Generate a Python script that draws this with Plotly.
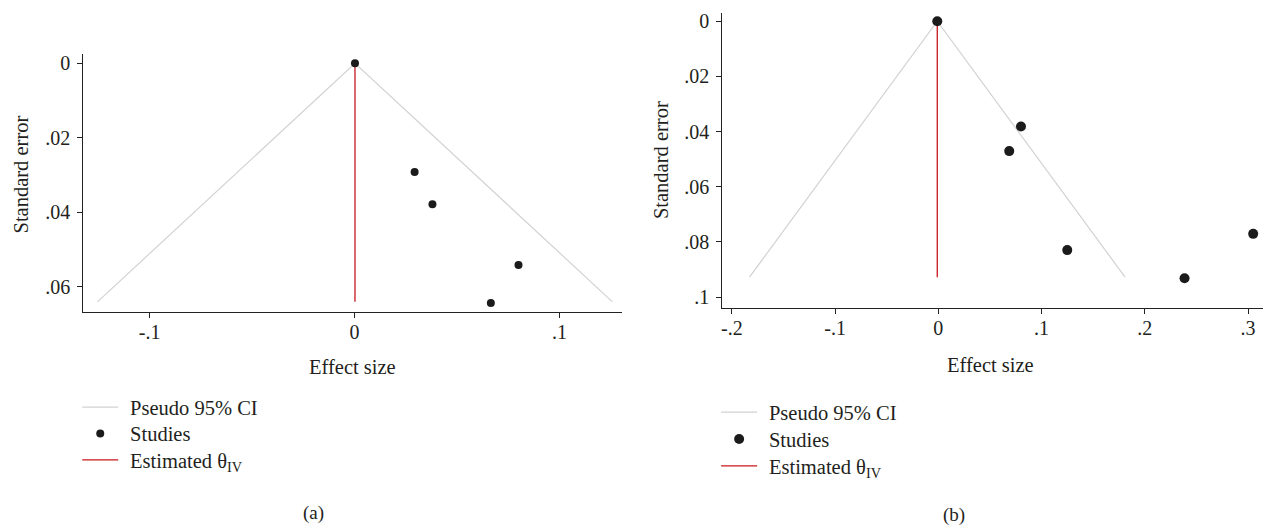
import plotly.graph_objects as go

W, H = 1263, 527

# ---- Panel (a) data ----
a_effect = [0.0002, 0.0293, 0.0380, 0.0800, 0.0665]
a_se = [0.0000, 0.0292, 0.0379, 0.0542, 0.0644]
a_theta = 0.0002
a_se_max = 0.0641

# ---- Panel (b) data ----
b_effect = [-0.0010, 0.0801, 0.0687, 0.1249, 0.2385, 0.3050]
b_se = [0.0000, 0.0382, 0.0471, 0.0830, 0.0932, 0.0771]
b_theta = -0.0010
b_se_max = 0.0928

a_xticks = [-0.1, 0, 0.1]
a_xtext = ["-.1", "0", ".1"]
a_yticks = [0, 0.02, 0.04, 0.06]
a_ytext = ["0", ".02", ".04", ".06"]
b_xticks = [-0.2, -0.1, 0, 0.1, 0.2, 0.3]
b_xtext = ["-.2", "-.1", "0", ".1", ".2", ".3"]
b_yticks = [0, 0.02, 0.04, 0.06, 0.08, 0.1]
b_ytext = ["0", ".02", ".04", ".06", ".08", ".1"]

legend_names = ["Pseudo 95% CI", "Studies", "Estimated θ<sub>IV</sub>"]

FONT = "Liberation Serif"
CI_COLOR = "#d2d2d2"
DOT_COLOR = "#1b1b1b"
RED = "#c8161d"
TXT = "#231f20"
PAD = "\u2004"  # small lead space between legend symbol and text


def px_x(p):
    return p / W


def px_y(p):
    return 1 - p / H


fig = go.Figure()


def add_panel(theta, se_max, eff, se, xa, ya, legends, msize):
    z = 1.96
    fig.add_trace(go.Scatter(
        x=[theta - z * se_max, theta, theta + z * se_max],
        y=[se_max, 0, se_max],
        mode="lines", line=dict(color=CI_COLOR, width=1.2),
        name=PAD + legend_names[0], xaxis=xa, yaxis=ya, legend=legends[0],
        hoverinfo="skip"))
    fig.add_trace(go.Scatter(
        x=[theta, theta], y=[0, se_max], mode="lines",
        line=dict(color=RED, width=1.3),
        name=PAD + legend_names[2], xaxis=xa, yaxis=ya, legend=legends[2],
        hoverinfo="skip"))
    fig.add_trace(go.Scatter(
        x=eff, y=se, mode="markers",
        marker=dict(color=DOT_COLOR, size=msize),
        name=PAD + legend_names[1], xaxis=xa, yaxis=ya, legend=legends[1]))


add_panel(a_theta, a_se_max, a_effect, a_se, "x", "y",
          ["legend", "legend2", "legend3"], 8)
add_panel(b_theta, b_se_max, b_effect, b_se, "x2", "y2",
          ["legend4", "legend5", "legend6"], 10)

axis_common = dict(
    showline=True, linecolor="#222", linewidth=1.3, mirror=False,
    ticks="outside", ticklen=5, tickwidth=1.2, tickcolor="#222",
    showgrid=False, zeroline=False,
    tickfont=dict(family=FONT, size=20, color=TXT),
)


def leg(x_line, y_center):
    return dict(x=px_x(x_line - 7), y=px_y(y_center - 21),
                xanchor="left", yanchor="top",
                font=dict(family=FONT, size=20.5, color=TXT),
                bgcolor="rgba(0,0,0,0)", itemwidth=36,
                itemclick=False, itemdoubleclick=False)


fig.update_layout(
    width=W, height=H,
    margin=dict(l=0, r=0, t=0, b=0),
    paper_bgcolor="white", plot_bgcolor="white",
    font=dict(family=FONT, color=TXT),
    xaxis=dict(domain=[px_x(82.5), px_x(621.7)], range=[-0.1323, 0.1306],
               tickvals=a_xticks, ticktext=a_xtext, anchor="y",
               ticklabelstandoff=-3, **axis_common),
    yaxis=dict(domain=[px_y(311), px_y(51.7)], range=[0.0669, -0.0024],
               tickvals=a_yticks, ticktext=a_ytext, anchor="x",
               ticklabelstandoff=3, **axis_common),
    xaxis2=dict(domain=[px_x(722), 1.0], range=[-0.2091, 0.3145],
                tickvals=b_xticks, ticktext=b_xtext, anchor="y2",
                ticklabelstandoff=-3, **axis_common),
    yaxis2=dict(domain=[px_y(306.5), px_y(10)], range=[0.1039, -0.0030],
                tickvals=b_yticks, ticktext=b_ytext, anchor="x2",
                ticklabelstandoff=3, **axis_common),
    legend=leg(83.3, 407.5),
    legend2=leg(83.3, 434),
    legend3=leg(83.3, 460.5),
    legend4=leg(722.7, 412.5),
    legend5=leg(722.7, 439.5),
    legend6=leg(722.7, 466.5),
    showlegend=True,
)

annots = [
    dict(text="Effect size", x=px_x(352), y=px_y(366), size=20.5, angle=0),
    dict(text="Effect size", x=px_x(990), y=px_y(364), size=20.5, angle=0),
    dict(text="Standard error", x=px_x(20), y=px_y(172.5), size=20.5, angle=-90),
    dict(text="Standard error", x=px_x(660), y=px_y(157.5), size=20.5, angle=-90),
    dict(text="(a)", x=px_x(313), y=px_y(513), size=19, angle=0),
    dict(text="(b)", x=px_x(954), y=px_y(515), size=19, angle=0),
]
for a in annots:
    fig.add_annotation(text=a["text"], x=a["x"], y=a["y"], xref="paper", yref="paper",
                       xanchor="center", yanchor="middle", showarrow=False,
                       textangle=a["angle"],
                       font=dict(family=FONT, size=a["size"], color=TXT))

fig.write_html("out.html", config={"displayModeBar": False},
               post_script="document.body.style.margin='0px';")
